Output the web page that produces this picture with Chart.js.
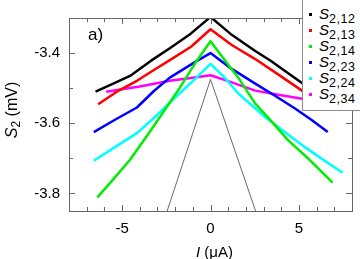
<!DOCTYPE html>
<html><head><meta charset="utf-8">
<script src="https://cdn.jsdelivr.net/npm/chart.js@4/dist/chart.umd.min.js"></script>
<style>
html,body{margin:0;padding:0;background:#fff;}
#wrap{position:relative;width:360px;height:259px;overflow:hidden;font-family:"Liberation Sans",Arial,sans-serif;color:#000;}
canvas{position:absolute;left:0;top:0;}
.t{position:absolute;white-space:nowrap;line-height:1;}
#legend{position:absolute;left:302px;top:-2px;width:70px;height:113px;border:1px solid #8a8a8a;background:#fff;box-sizing:border-box;}
.row{position:absolute;left:0;height:16px;line-height:16px;font-size:15px;}
.mk{position:absolute;left:6px;top:7px;width:3px;height:3px;}
.lb{position:absolute;left:16px;top:0;white-space:nowrap;}
.lb i{font-style:italic;}
.lb sub{font-size:12.5px;vertical-align:-4px;line-height:0;letter-spacing:0.5px;}
</style></head>
<body>
<div id="wrap">
<canvas id="c" width="360" height="259"></canvas>
<div class="t" style="left:88px;top:26px;font-size:17px;">a)</div>
<div class="t" style="left:196px;top:244px;font-size:15px;"><i>I</i> (μA)</div>
<div class="t" style="left:13px;top:110px;font-size:16px;transform:translate(-50%,-50%) rotate(-90deg);"><i>S</i><sub style="font-size:12px;vertical-align:-3px;">2</sub> (mV)</div>
<div id="legend"></div>
</div>
<script>
// ---- data ----
const seriesNames = ['2,12', '2,13', '2,14', '2,23', '2,24', '2,34'];
const seriesColors = ['#000000', '#ff0000', '#00ee00', '#0000ff', '#00ffff', '#ff00ff'];

const x12 = [-6.5, -5.5, -4.55, -3.4, -2.3, -1.2, 0, 1.2, 2.53, 3.4, 5.17, 6.6];
const y12 = [-3.51, -3.487, -3.465, -3.423, -3.386, -3.348, -3.297, -3.348, -3.394, -3.422, -3.485, -3.535];

const x13 = [-6.35, -5.3, -4.16, -3.2, -2.3, -1.1, 0, 1.2, 2.53, 3.8, 5.17, 6.6];
const y13 = [-3.546, -3.51, -3.479, -3.448, -3.42, -3.382, -3.332, -3.377, -3.417, -3.46, -3.507, -3.556];

const x14 = [-6.4, -5.5, -4.55, -3.4, -2.3, -1.74, -0.79, 0, 0.8, 1.57, 2.53, 3.4, 4.38, 5.6, 6.9];
const y14 = [-3.811, -3.76, -3.704, -3.622, -3.541, -3.499, -3.423, -3.366, -3.42, -3.47, -3.544, -3.592, -3.648, -3.704, -3.769];

const x23 = [-6.6, -5.4, -4.16, -3.2, -2.3, -0.79, 0, 1.2, 2.53, 3.6, 4.78, 5.7, 6.63];
const y23 = [-3.625, -3.59, -3.555, -3.508, -3.47, -3.423, -3.40, -3.445, -3.487, -3.52, -3.558, -3.59, -3.625];

const x24 = [-6.6, -5.4, -4.16, -3.2, -2.3, -0.79, 0, 0.8, 1.57, 3.1, 4.2, 5.34, 6.4, 7.47];
const y24 = [-3.707, -3.668, -3.628, -3.585, -3.541, -3.47, -3.431, -3.47, -3.515, -3.583, -3.625, -3.668, -3.705, -3.741];

const x34 = [-5.9, -4.0, -2.3, -1.0, 0, 1.0, 2.53, 4.0, 5.17, 6.5];
const y34 = [-3.51, -3.495, -3.479, -3.47, -3.463, -3.48, -3.507, -3.52, -3.53, -3.54];

// thin reference triangle
const xRef = [-2.45, 0, 2.55];
const yRef = [-3.85, -3.475, -3.85];

const xTickLabels = [-5, 0, 5];
const yTickLabels = [-3.8, -3.6, -3.4];
const xRange = [-8, 8];
const yRange = [-3.85, -3.30];

// ---- build ----
const allX = [x12, x13, x14, x23, x24, x34];
const allY = [y12, y13, y14, y23, y24, y34];
const pts = (xs, ys) => xs.map((v, i) => ({x: v, y: ys[i]}));

const datasets = allX.map((xs, i) => ({
  label: 'S' + seriesNames[i],
  data: pts(xs, allY[i]),
  borderColor: seriesColors[i],
  backgroundColor: seriesColors[i],
  borderWidth: 2.5,
  pointRadius: 0,
  showLine: true,
  tension: 0,
  borderJoinStyle: 'round',
  order: 1
}));
datasets.push({
  label: 'ref',
  data: pts(xRef, yRef),
  borderColor: '#444',
  borderWidth: 0.8,
  pointRadius: 0,
  showLine: true,
  tension: 0,
  order: 2
});

// HTML legend
const lg = document.getElementById('legend');
seriesNames.forEach((n, i) => {
  const r = document.createElement('div');
  r.className = 'row';
  r.style.top = (7 + 16 * i) + 'px';
  r.innerHTML = '<span class="mk" style="background:' + seriesColors[i] + '"></span>' +
    '<span class="lb"><i>S</i><sub>' + n + '</sub></span>';
  lg.appendChild(r);
});

const frame = {
  id: 'frame',
  afterDraw(chart) {
    const {ctx, chartArea: a, scales: {x, y}} = chart;
    ctx.save();
    ctx.strokeStyle = '#666';
    ctx.lineWidth = 1;
    ctx.strokeRect(Math.round(a.left) + 0.5, Math.round(a.top) + 0.5,
      Math.round(a.right - a.left), Math.round(a.bottom - a.top));
    ctx.beginPath();
    for (let v = xRange[0]; v <= xRange[1]; v++) {
      const px = Math.round(x.getPixelForValue(v)) + 0.5;
      const L = (v % 5 === 0) ? 6 : 4;
      ctx.moveTo(px, a.bottom); ctx.lineTo(px, a.bottom - L);
      ctx.moveTo(px, a.top); ctx.lineTo(px, a.top + L);
    }
    for (let k = -38; k <= -33; k++) {
      const v = k / 10;
      const py = Math.round(y.getPixelForValue(v)) + 0.5;
      const L = (k % 2 === 0) ? 6 : 4;
      ctx.moveTo(a.left, py); ctx.lineTo(a.left + L, py);
      ctx.moveTo(a.right, py); ctx.lineTo(a.right - L, py);
    }
    ctx.stroke();
    ctx.restore();
  }
};

new Chart(document.getElementById('c'), {
  type: 'scatter',
  data: {datasets},
  options: {
    responsive: false,
    animation: false,
    layout: {padding: {top: 16, right: 8, left: 0, bottom: 0}},
    plugins: {legend: {display: false}, tooltip: {enabled: false}},
    scales: {
      x: {
        type: 'linear', min: xRange[0], max: xRange[1],
        grid: {display: false, drawTicks: false},
        border: {display: false},
        afterBuildTicks: s => { s.ticks = xTickLabels.map(v => ({value: v})); },
        afterFit: s => { s.height = 48; },
        ticks: {color: '#000', padding: 9, font: {family: '"Liberation Sans", Arial, sans-serif', size: 15}, callback: v => String(v)}
      },
      y: {
        type: 'linear', min: yRange[0], max: yRange[1],
        grid: {display: false, drawTicks: false},
        border: {display: false},
        afterBuildTicks: s => { s.ticks = yTickLabels.map(v => ({value: v})); },
        afterFit: s => { s.width = 69; },
        ticks: {color: '#000', padding: 9, font: {family: '"Liberation Sans", Arial, sans-serif', size: 15}, callback: v => Number(v).toFixed(1)}
      }
    }
  },
  plugins: [frame]
});
</script>
</body></html>
